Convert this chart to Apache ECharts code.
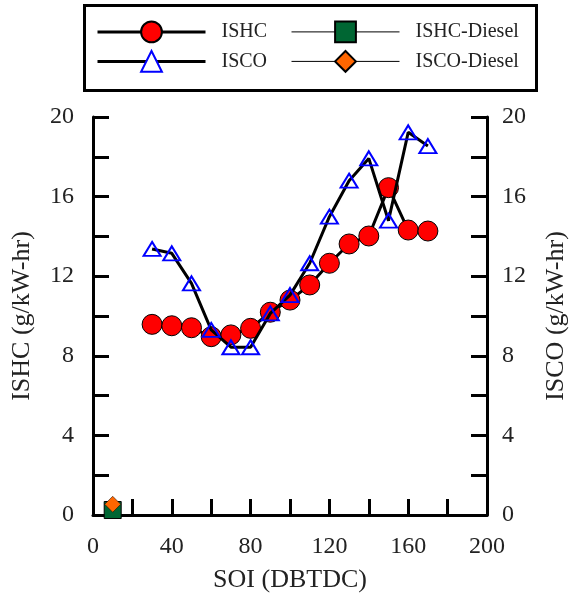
<!DOCTYPE html>
<html>
<head>
<meta charset="utf-8">
<script src="https://cdn.jsdelivr.net/npm/echarts@6/dist/echarts.min.js"></script>
<style>html,body{margin:0;padding:0;background:#fff}#c{width:569px;height:600px}</style>
</head>
<body>
<div id="c"></div>
<script>
const soi = [30, 40, 50, 60, 70, 80, 90, 100, 110, 120, 130, 140, 150, 160, 170];
const ishc = [9.58, 9.51, 9.41, 8.96, 9.05, 9.38, 10.19, 10.8, 11.56, 12.65, 13.62, 14.02, 16.45, 14.32, 14.27];
const isco = [13.37, 13.15, 11.64, 9.3, 8.43, 8.43, 10.13, 11.05, 12.65, 14.99, 16.8, 17.92, 14.79, 19.23, 18.54];
const dieselSoi = [10];
const ishcDiesel = [0.25];
const iscoDiesel = [0.54];
const xTicks = [0, 40, 80, 120, 160, 200];
const yTicks = [0, 4, 8, 12, 16, 20];

const FONT = 'Liberation Serif';
const TXT = '#222';
const pair = (xs, ys) => xs.map((x, i) => [x, ys[i]]);

const chart = echarts.init(document.getElementById('c'), null, {renderer: 'canvas'});

function yAxisCfg(pos, name, margin, gap) {
  return {
    type: 'value', position: pos, min: 0, max: 20, interval: 2,
    name: name, nameLocation: 'middle', nameGap: gap,
    nameTextStyle: {fontFamily: FONT, fontSize: 26, color: TXT},
    axisLine: {show: true, onZero: false, lineStyle: {color: '#000', width: 3}},
    axisTick: {show: true, inside: true, length: 16, lineStyle: {color: '#000', width: 3}},
    axisLabel: {margin: margin, fontFamily: FONT, fontSize: 24, color: TXT,
      formatter: v => yTicks.indexOf(v) >= 0 ? String(v) : ''},
    splitLine: {show: false}
  };
}

function legendCfg(name, left, top, lw, fill) {
  const cfg = {
    data: [name], left: left, top: top, orient: 'horizontal',
    itemWidth: 108, itemHeight: 26, padding: 0,
    textStyle: {fontFamily: FONT, fontSize: 20, color: TXT, padding: [0, 0, 0, 11]},
    lineStyle: {width: lw, color: '#000'},
    selectedMode: false
  };
  if (fill) cfg.itemStyle = {color: fill};
  return cfg;
}

chart.setOption({
  animation: false,
  backgroundColor: '#fff',
  grid: {left: 93, right: 82, top: 117, bottom: 85, containLabel: false, outerBoundsMode: 'none'},
  graphic: [{
    type: 'rect', left: 82, top: 3,
    shape: {x: 0, y: 0, width: 452, height: 85},
    style: {fill: 'none', stroke: '#000', lineWidth: 3}, z: 100
  }],
  legend: [
    legendCfg('ISHC', 96, 20.5, 3),
    legendCfg('ISCO', 96, 50, 3, '#fff'),
    legendCfg('ISHC-Diesel', 291, 20.5, 1),
    legendCfg('ISCO-Diesel', 291, 50, 1)
  ],
  xAxis: {
    type: 'value', min: 0, max: 200, interval: 20,
    name: 'SOI (DBTDC)', nameLocation: 'middle', nameGap: 52,
    nameTextStyle: {fontFamily: FONT, fontSize: 26, color: TXT},
    axisLine: {show: true, onZero: false, lineStyle: {color: '#000', width: 3}},
    axisTick: {show: true, inside: true, length: 16, lineStyle: {color: '#000', width: 3}},
    axisLabel: {margin: 20, fontFamily: FONT, fontSize: 24, color: TXT,
      formatter: v => xTicks.indexOf(v) >= 0 ? String(v) : ''},
    splitLine: {show: false}
  },
  yAxis: [
    yAxisCfg('left', 'ISHC (g/kW-hr)', 19, 58),
    yAxisCfg('right', 'ISCO (g/kW-hr)', 15, 56)
  ],
  series: [
    {
      name: 'ISHC', type: 'line', yAxisIndex: 0, z: 2,
      data: pair(soi, ishc),
      symbol: 'circle', symbolSize: 20,
      lineStyle: {color: '#000', width: 3},
      itemStyle: {color: '#ff0000', borderColor: '#000', borderWidth: 1},
      emphasis: {disabled: true}
    },
    {
      name: 'ISCO', type: 'line', yAxisIndex: 1, z: 3,
      data: pair(soi, isco),
      symbol: 'triangle', symbolSize: [17, 14],
      lineStyle: {color: '#000', width: 3},
      itemStyle: {color: 'rgba(255,255,255,0)', borderColor: '#0000ff', borderWidth: 2},
      emphasis: {disabled: true}
    },
    {
      name: 'ISHC-Diesel', type: 'line', yAxisIndex: 0, z: 4,
      data: pair(dieselSoi, ishcDiesel),
      symbol: 'rect', symbolSize: 17,
      lineStyle: {color: '#000', width: 1},
      itemStyle: {color: '#006633', borderColor: '#000', borderWidth: 1},
      emphasis: {disabled: true}
    },
    {
      name: 'ISCO-Diesel', type: 'line', yAxisIndex: 1, z: 5,
      data: pair(dieselSoi, iscoDiesel),
      symbol: 'diamond', symbolSize: 16,
      lineStyle: {color: '#000', width: 1},
      itemStyle: {color: '#ff6600', borderColor: '#000', borderWidth: 0.5},
      emphasis: {disabled: true}
    }
  ]
});
</script>
</body>
</html>
